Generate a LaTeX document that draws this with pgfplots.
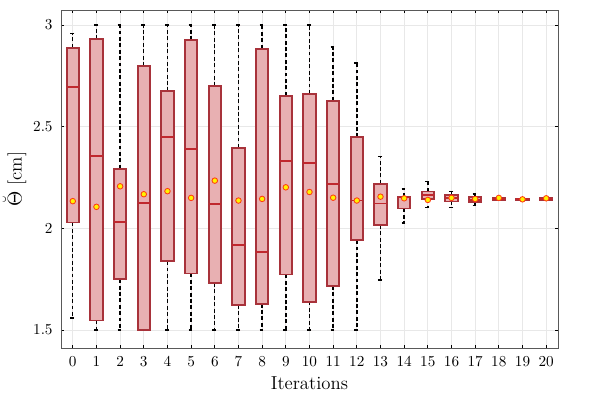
\documentclass[border=0pt]{standalone}
\usepackage{pgfplots}
\pgfplotsset{compat=1.18}
\usepgfplotslibrary{statistics}
\definecolor{boxfill}{HTML}{E8B0B2}
\definecolor{boxedge}{HTML}{A8323A}
\definecolor{medcol}{HTML}{C0282E}
\definecolor{meanedge}{HTML}{FF3A10}
\pgfplotsset{
  mybox/.style={draw=boxedge, fill=boxfill, line width=1.3pt, solid,
    boxplot/draw direction=y,
    boxplot/box extend=0.52,
    boxplot/whisker extend=0.22,
    boxplot/every median/.style={draw=medcol, line width=1.3pt},
    boxplot/every whisker/.style={draw=black, line width=1pt, dash pattern=on 2.8pt off 1.8pt},
    boxplot/every box/.style={draw=boxedge, fill=boxfill, line width=1.3pt},
  }
}
\begin{document}
\begin{tikzpicture}
\useasboundingbox (-43.9pt,-33.8pt) rectangle (386.8pt,251.2pt);
\begin{axis}[
  at={(0,0)}, anchor=south west,
  scale only axis, width=358pt, height=244pt,
  xmin=-0.5, xmax=20.5, ymin=1.408, ymax=3.074,
  xtick={0,1,...,20}, ytick={1.5,2,2.5,3},
  grid=major, major grid style={gray!18, line width=0.5pt},
  axis line style={gray!70!black, line width=0.6pt},
  tick align=inside, major tick length=2.5pt,
  tick style={black, line width=0.5pt},
  tick label style={font=\fontsize{11.2}{13}\selectfont},
  xticklabel style={yshift=-2pt},
  yticklabel style={xshift=-2.5pt},
  boxplot/draw direction=y,
  xlabel={Iterations}, ylabel={$\breve{\Theta}$ [cm]},
  label style={font=\fontsize{13.5}{16}\selectfont},
  xlabel style={yshift=-1pt}, ylabel style={yshift=-2pt},
]
\addplot[mybox, boxplot prepared={draw position=0, lower whisker=1.56, lower quartile=2.029, median=2.694, upper quartile=2.889, upper whisker=2.957}] coordinates {};
\addplot[mybox, boxplot prepared={draw position=1, lower whisker=1.5, lower quartile=1.547, median=2.356, upper quartile=2.931, upper whisker=3.0}] coordinates {};
\addplot[mybox, boxplot prepared={draw position=2, lower whisker=1.5, lower quartile=1.75, median=2.032, upper quartile=2.294, upper whisker=3.0}] coordinates {};
\addplot[mybox, boxplot prepared={draw position=3, lower whisker=1.5, lower quartile=1.5, median=2.125, upper quartile=2.799, upper whisker=3.0}] coordinates {};
\addplot[mybox, boxplot prepared={draw position=4, lower whisker=1.5, lower quartile=1.839, median=2.451, upper quartile=2.674, upper whisker=3.0}] coordinates {};
\addplot[mybox, boxplot prepared={draw position=5, lower whisker=1.5, lower quartile=1.778, median=2.391, upper quartile=2.926, upper whisker=3.0}] coordinates {};
\addplot[mybox, boxplot prepared={draw position=6, lower whisker=1.5, lower quartile=1.731, median=2.120, upper quartile=2.699, upper whisker=3.0}] coordinates {};
\addplot[mybox, boxplot prepared={draw position=7, lower whisker=1.5, lower quartile=1.624, median=1.920, upper quartile=2.396, upper whisker=3.0}] coordinates {};
\addplot[mybox, boxplot prepared={draw position=8, lower whisker=1.5, lower quartile=1.630, median=1.883, upper quartile=2.884, upper whisker=3.0}] coordinates {};
\addplot[mybox, boxplot prepared={draw position=9, lower whisker=1.5, lower quartile=1.773, median=2.330, upper quartile=2.653, upper whisker=3.0}] coordinates {};
\addplot[mybox, boxplot prepared={draw position=10, lower whisker=1.5, lower quartile=1.640, median=2.320, upper quartile=2.662, upper whisker=3.0}] coordinates {};
\addplot[mybox, boxplot prepared={draw position=11, lower whisker=1.5, lower quartile=1.717, median=2.220, upper quartile=2.628, upper whisker=2.893}] coordinates {};
\addplot[mybox, boxplot prepared={draw position=12, lower whisker=1.5, lower quartile=1.942, median=2.137, upper quartile=2.448, upper whisker=2.813}] coordinates {};
\addplot[mybox, boxplot prepared={draw position=13, lower whisker=1.747, lower quartile=2.017, median=2.122, upper quartile=2.220, upper whisker=2.353}] coordinates {};
\addplot[mybox, boxplot prepared={draw position=14, lower whisker=2.026, lower quartile=2.098, median=2.152, upper quartile=2.156, upper whisker=2.194}] coordinates {};
\addplot[mybox, boxplot prepared={draw position=15, lower whisker=2.104, lower quartile=2.143, median=2.163, upper quartile=2.181, upper whisker=2.230}] coordinates {};
\addplot[mybox, boxplot prepared={draw position=16, lower whisker=2.104, lower quartile=2.132, median=2.148, upper quartile=2.165, upper whisker=2.181}] coordinates {};
\addplot[mybox, boxplot prepared={draw position=17, lower whisker=2.112, lower quartile=2.130, median=2.141, upper quartile=2.153, upper whisker=2.170}] coordinates {};
\addplot[mybox, boxplot prepared={draw position=18, lower whisker=2.137, lower quartile=2.139, median=2.145, upper quartile=2.150, upper whisker=2.152}] coordinates {};
\addplot[mybox, boxplot prepared={draw position=19, lower whisker=2.140, lower quartile=2.141, median=2.143, upper quartile=2.145, upper whisker=2.146}] coordinates {};
\addplot[mybox, boxplot prepared={draw position=20, lower whisker=2.136, lower quartile=2.139, median=2.145, upper quartile=2.150, upper whisker=2.152}] coordinates {};
\addplot[only marks, mark=*, mark size=2pt, mark options={fill=yellow, draw=meanedge, line width=0.6pt}] coordinates {
(0,2.134) (1,2.106) (2,2.207) (3,2.168) (4,2.183) (5,2.150) (6,2.235) (7,2.137) (8,2.145) (9,2.202) (10,2.179)
(11,2.151) (12,2.137) (13,2.156) (14,2.148) (15,2.140) (16,2.150) (17,2.145) (18,2.150) (19,2.143) (20,2.148)};
\end{axis}
\end{tikzpicture}
\end{document}
